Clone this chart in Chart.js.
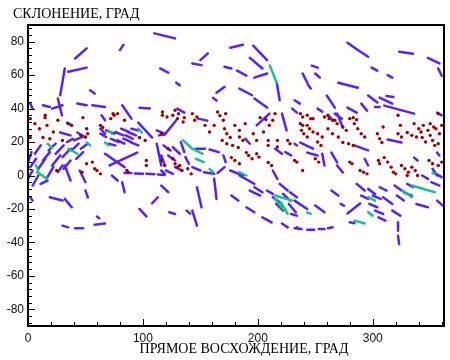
<!DOCTYPE html>
<html><head><meta charset="utf-8">
<script src="https://cdn.jsdelivr.net/npm/chart.js@4"></script>
<style>html,body{margin:0;padding:0;background:#fff}#c{display:block}</style>
</head><body>
<canvas id="c" width="450" height="360"></canvas>
<script>
const yTitle = 'СКЛОНЕНИЕ, ГРАД';
const xTitle = 'ПРЯМОЕ ВОСХОЖДЕНИЕ, ГРАД';
const xTicks = [0, 100, 200, 300];
const yTicks = [-80, -60, -40, -20, 0, 20, 40, 60, 80];

// blue tracks: each entry is a polyline [ra1,dec1, ra2,dec2, ...]
const blueStreaks = [
 [110,85,128,82],[41,70,51,76],[80,75,83,78],[32,64,30,56,28,48],[35,62,51,64.5],[54,51,58,49],
 [13,42,19,41],[21,40,30,42],[26,46,29.5,36],[43,43,51,42],[56,42,67,41],[82,42,90,34],[97,40.5,106,40],
 [115,64,122,61.5],[64,36,67,33],[2,43,4,40],[143,67,151,66],[150,69,156.5,73],[171,65,177,64],
 [182,62.7,190,59.7],[129,55.5,132,54],[164,49.5,171,53],[161,46.5,164,44.8],[184,52,195,48],
 [197,46,208,40.6],[176,76.4,187,78.2],[196,77.6,208,69],[216.5,55.5,219,45],[193,70.4,204,64],
 [197,58.5,208,61],[232,45,236.5,43],[230,40,234,37.6],[221,37,225,27],[278,79.4,287,75,296,71],
 [323,74,335,72.8],[348,70.4,358,67],[357,64,360,59.7],[247,65.7,252,64.5],[250,61,254,58.5],
 [239,61,243,55.5],[243.5,54.5,246,52],[270,55.5,287,52.5],[299,64.5,304,62.7],[313,60,317,58.5],
 [260,47.8,267,40.6],[296,47.8,304,43.6],[306,46.6,317,43],[312,47.5,318,47],[310,41.8,336,37],
 [302,41,306,41],[290,43,295,38.8],[278,40.6,286,37.6],[252,40,256,38.2],[267,37,273,34],
 [269,37,274,28.7],[261,36,264,34],[356,37.6,360,36],[34,31.6,38,30],[96,31.6,108,22.7],
 [28,25.7,37,24],[43,25.7,50,22.7],[63,28,67,25],
 [63,25,68,23],[68,27,75,25],[72,22,79,20],[76,26,83,24],[81,28,88,26],[83,22,90,20],[87,26,94,24],
 [89,20,96,18],[70,19,76,18],[90,28,96,27],[78,21,84,19],[85,24,91,22],[112,27,119,25],
 [0,-2,4,3],[0,8,3,14],[4,-6,9,0],[9,4,15,10],[13,9,19,14],[16,-2,22,5],[21,6,28,12],[24,13,31,18],
 [30,11,37,16],[31,4,37,9],[38,15,44,19],[11,-5,17,-3],[6,13,11,18],[40,21,47,23],[2,5,7,10],
 [18,15,24,19],[26,2,30,6],[42,10,48,14],[46,16,52,19],[34,20,39,22],
 [67,13,84,5],[71,6,95,13.7],[32,6,37,-3],[45,3,50,-4],
 [84,1.5,90,1.5],[93,1.2,100,1],[103,1,110,0.8],[113,0.6,119,0.3],
 [73,0,78,-3],[112,19,116,6],[50,-9,52,-13],[82,-4,84,-10],[19,-13,30,-15],[2,-13,4,-15],
 [129,33,119,24.5,114,24],[130,40,136,37.6],[148,34,156,32.8],[199,30,210,37],[189,22,193,19],
 [133,20,136,14],[137,11,140,7],[143,5,150,3],[153,2,162,1],[165,1.5,171,5],[172,8,170,12],
 [166,14,158,15.5],[154,16,146,16],
 [118,18,124,15],[122,12,128,9],[126,17,132,13],[128,5,134,3],[120,3,126,1],
 [116,12,119,6],[116,3,119,1],[176,3,187,0],[184,0,197,-5],[147,-7,151,-19],[162,-2,164,-14],
 [197,-7,204,-10],[213,3,217,-2],[219,-5,226,-9],[228,-10,234,-13],[116,-6,122,-10],[215,16,221,13],
 [224,14,229,12],
 [177,-12,183,-15],[123,-22,128,-23],[138,-21,141,-22.7],[143,-21,147,-30],[190,-19,197,-22],
 [204,-25,212,-28],[221,-28.7,226,-31],[234,-31,236,-32],
 [208,-9,213,-11],[213,-13,219,-16],[216,-17,222,-21],[222,-11,228,-15],[227,-17,233,-22],[229,-23,234,-24],
 [193,-9,202,-12],[32,-14,38,-19],[97,-20,103,-24.5],[108,-16.7,113,-13],[30,-30,35,-31],
 [41,-31.5,48,-31.5],[58,-29.5,67,-28.7],[60,-24.5,62,-25.5],
 [237,19.7,248,16],[284,18,296,15],[313,21.5,325,19.7],[243,13.7,252,12],[256,13,258,6],
 [264,13.7,269,7.8],[293,10,296,6],[269,6,274,1.8],[336,10.7,339,9],[356,13.7,358,12],[352,4,356,0],
 [286,-5,293,-9],[264,-9,270,-12],
 [296,-8,302,-11],[300,-12,307,-14],[306,-7,312,-9],[309,-13,315,-16],
 [319,-6,325,-9],[327,-10,334,-12],[330,-5,335,-7],
 [343,0,348,-2],[351,-4,358,-6],[355,1,360,-1],
 [232,-15,243,-20],[250,-18,258,-22],[272,-17,275,-18],[278,-22.7,289,-16.7],[280,-28,284,-28.5],
 [232,-31.5,238,-32],[243,-32.5,249,-32.5],[253,-32,258,-32],[261,-31.5,265,-31],
 [290,-12,296,-14],[297,-17,304,-19],[302,-21,309,-23],[311,-14,317,-17],[317,-21,324,-24],
 [321,-12,327,-15],[305,-25,311,-27],
 [322,-28,322,-33],[322,-36,323,-41],[338,-17,348,-19],[356,-15,361,-18],[232,19,234,18]
];

// red objects: [ra, dec]
const redPoints = [
 [14.8,34.6],[47.8,34.6],[74,37],[72,34],[117,36],[117,38],[128,39],[131,37],[136,34.6],[143,37],[147,35],
 [167,35.8],[202,34.6],[207,33.5],[215,37],[243,36],[246,34],[258,35],[262,34],[267,33],[283,34.6],
 [286,33.4],[322,36],[357,37],[165,38],[172,37],
 [15,36],[16.5,30],[2,34],[6,31],[2,22.7],[13,22.7],[19,22],[35,31],[38,30],[51,28],[52,25],[46,24],
 [50,23],[63,30],[65,28.7],[51,7],[56,8],[58,4],[60,3],[63,1],[78,37],[84,33],[75,36],[97,22.7],
 [102,21],[103,9],[103,6],[116,9],[119,6],[86,3],[87,2],[25,3],[47,2],[10,28],[22,26],[26,33],[30,21],
 [121,35],[126,36],[130,34],[135,32],[145,33],[154,30],[170,33],[171,28],[173,25],[176,22.7],[180,30],
 [184,27],[189,31],[196,25],[199,21],[184,23],[187,21],[169,21],[173,19],[178,18],[183,16.7],[190,13.7],
 [192,12],[195,10],[199,13],[201,11],[177,10.7],[180,9],[184,7],[209,21],[209,18],[217,21],[217,17],
 [226,21],[228,19],[209,7.8],[212,6],[126,10],[128,7],[130,5],[122,16],[132,6],[134,3],[139,4],[142,1],
 [116,25],[205,26],[210,30],[213,33],[158,26],[162,30],
 [237,37],[239,35],[248,34],[237,31],[239,30],[243,30],[245,28],[238,27],[240,25],[243,23],[248,26],
 [252,25],[256,23],[261,36],[265,33],[269,31],[261,28],[265,25],[270,23],[280,34],[284,31],[287,28],
 [290,25],[293,23],[274,29],[277,27],[252,20],[255,18],[274,19.7],[279,19],[283,18],[304,25],[306,22],
 [308,19.7],[309,29],[324,30],[322,25],[325,23],[330,25.7],[334,24],[338,23],[343,22.7],[336,31],
 [340,28],[344,30],[348,27],[350,24],[352,21],[354,18],[346,20],[342,26],[350,31],[353,29],[310,10.7],
 [313,8],[316,5],[305,9],[306,7],[318,2],[320,1],[325,6],[328,4],[331,2],[334,5],[337,3],[339,0],
 [330,0],[280,8],[282,7],[289,3],[292,2],[295,1],[232,9],[234,8],[239,3],[250,10],[253,8],[349,9],
 [352,7],[357,6],[360,8],[357,19],[355,28],[358,25],[360,30]
];

// green tracks
const greenStreaks = [
 [210.4,65.7,216.5,55.5],[8,2,16.5,-2],[7,6,9,3],[35,16,43,13],[17,19,21,16.7],[51,19.7,54,18],
 [67,19.7,70,18],[70,27,73,25],[96,28,99,25.7],[135,21,143,16],[143,16,152,13],[146,10,153,8],
 [158,4,161,2],[184,2,190,0],[215,-12,230,-15],[215,-14,222,-20],[220,-16,226,-23],[334,-6,354,-10],
 [326,-9,334,-13],[296,-13,302,-15],[284,-27,293,-28.7],[296,-22,300,-24],[243,-22,246,-23],[352,1.5,354,1]
];

function toLine(streaks){
  const out = [];
  for (const s of streaks){
    for (let i = 0; i < s.length; i += 2) out.push({x: s[i], y: s[i+1]});
    out.push({x: s[s.length-2], y: null});
  }
  return out;
}

const framePlugin = {
  id: 'frame',
  afterDatasetsDraw(chart){
    const {ctx, chartArea: a, scales: {x, y}} = chart;
    ctx.save();
    ctx.strokeStyle = '#000';
    ctx.lineWidth = 1;
    ctx.beginPath();
    for (let v = 20; v < 362; v += 20){
      const px = Math.round(x.getPixelForValue(v)) + 0.5;
      const len = v % 100 === 0 ? 7 : 4;
      ctx.moveTo(px, a.bottom); ctx.lineTo(px, a.bottom - len);
    }
    for (let v = -88; v <= 88; v += 4){
      const py = Math.round(y.getPixelForValue(v)) + 0.5;
      const len = v % 20 === 0 ? 7 : 4;
      ctx.moveTo(a.left, py); ctx.lineTo(a.left + len, py);
    }
    ctx.stroke();
    ctx.lineWidth = 2;
    ctx.strokeRect(a.left, a.top, a.right - a.left, a.bottom - a.top);
    ctx.fillStyle = '#000';
    ctx.font = '14px "Liberation Serif", "Times New Roman", serif';
    ctx.textBaseline = 'alphabetic';
    ctx.textAlign = 'left';
    ctx.fillText(yTitle, 13, 18);
    ctx.textAlign = 'center';
    ctx.fillText(xTitle, 244, 353);
    ctx.restore();
  }
};

const tickFont = {family: '"Liberation Sans", Arial, sans-serif', size: 12};

new Chart(document.getElementById('c'), {
  type: 'line',
  data: {
    datasets: [
      {label: 'green', data: toLine(greenStreaks), borderColor: '#19c285', backgroundColor: '#19c285',
       borderWidth: 2.5, pointRadius: 0, borderCapStyle: 'round', order: 0, spanGaps: false, tension: 0},
      {label: 'red', data: redPoints.map(p => ({x: p[0], y: p[1]})), showLine: false,
       pointRadius: 1.7, pointBorderWidth: 0, pointBackgroundColor: '#a00000', borderColor: '#a00000', order: 1},
      {label: 'blue', data: toLine(blueStreaks), borderColor: '#5522ff', backgroundColor: '#5522ff',
       borderWidth: 2.5, pointRadius: 0, borderCapStyle: 'round', order: 2, spanGaps: false, tension: 0}
    ]
  },
  options: {
    responsive: false,
    animation: false,
    layout: {padding: {top: 25, right: 6, left: 0, bottom: 0}},
    plugins: {legend: {display: false}, tooltip: {enabled: false}},
    scales: {
      x: {
        type: 'linear', min: 0, max: 362,
        afterBuildTicks: s => { s.ticks = xTicks.map(v => ({value: v})); },
        afterFit: s => { s.height = 34; },
        grid: {display: false, drawTicks: false}, border: {display: false},
        ticks: {padding: 5, color: '#111', font: tickFont, maxRotation: 0, autoSkip: false}
      },
      y: {
        type: 'linear', min: -90, max: 90,
        afterBuildTicks: s => { s.ticks = yTicks.map(v => ({value: v})); },
        afterFit: s => { s.width = 28; },
        grid: {display: false, drawTicks: false}, border: {display: false},
        ticks: {padding: 4, color: '#111', font: tickFont, autoSkip: false}
      }
    }
  },
  plugins: [framePlugin]
});
</script>
</body></html>
